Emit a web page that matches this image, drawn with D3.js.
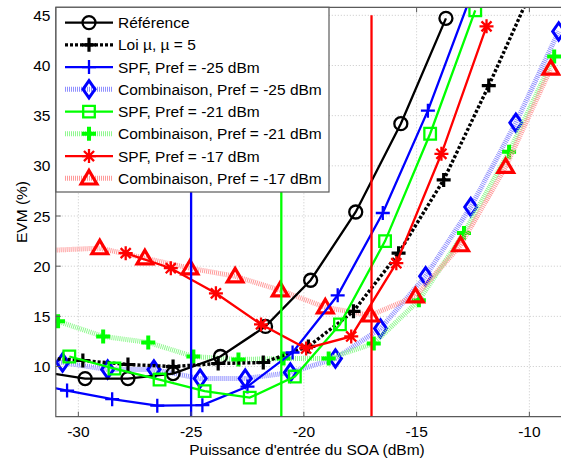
<!DOCTYPE html>
<html>
<head>
<meta charset="utf-8">
<script src="https://cdn.jsdelivr.net/npm/d3@7"></script>
<style>
  body { margin: 0; background: #fff; }
  text { font-family: "Liberation Sans", Arial, sans-serif; font-size: 15.5px; fill: #000; }
</style>
</head>
<body>
<div id="chart"></div>
<script>
// data (x = input power dBm, y = EVM %)
const refX = [-31.7, -29.7, -27.8, -25.8, -23.7, -21.7, -19.7, -17.7, -15.7, -13.7]
const refY = [9.5, 8.8, 8.8, 9.3, 11.0, 14.0, 18.6, 25.4, 34.2, 44.7]

const loiX = [-31.8, -29.8, -27.8, -25.8, -23.8, -21.8, -19.8, -17.8, -15.8, -13.8, -11.8, -9.8]
const loiY = [10.9, 10.6, 10.2, 10.0, 10.3, 10.4, 12.0, 15.5, 21.3, 28.6, 38.0, 48.0]

const spf25X = [-32.5, -30.5, -28.5, -26.5, -24.5, -22.5, -20.5, -18.5, -16.5, -14.5, -12.5]
const spf25Y = [8.5, 7.6, 6.75, 6.1, 6.15, 8.0, 11.4, 17.1, 25.3, 35.5, 47.5]

const comb25X = [-32.7, -30.7, -28.7, -26.65, -24.6, -22.6, -20.6, -18.6, -16.6, -14.6, -12.6, -10.6, -8.7]
const comb25Y = [11.0, 10.4, 9.7, 9.7, 8.8, 8.8, 9.4, 10.8, 13.8, 19.0, 25.9, 34.3, 43.4]

const spf21X = [-30.4, -28.4, -26.4, -24.4, -22.4, -20.4, -18.4, -16.4, -14.4, -12.4]
const spf21Y = [11.0, 9.8, 8.7, 7.55, 6.9, 9.0, 14.2, 22.5, 33.2, 45.5]

const comb21X = [-30.9, -28.9, -26.9, -24.9, -22.9, -20.9, -18.9, -16.9, -14.9, -12.9, -10.9, -8.9]
const comb21Y = [14.5, 13.0, 12.4, 11.0, 10.7, 10.8, 10.8, 12.3, 16.6, 23.3, 31.4, 40.9]

const spf17X = [-27.9, -25.9, -23.9, -21.9, -19.9, -17.9, -15.9, -13.9, -11.9]
const spf17Y = [21.3, 19.8, 17.3, 14.2, 11.8, 13.0, 20.3, 31.2, 43.9]

const comb17X = [-31.05, -29.05, -27.05, -25.05, -23.05, -21.05, -19.05, -17.05, -15.05, -13.05, -11.05, -9.05]
const comb17Y = [21.6, 21.8, 20.8, 19.8, 19.0, 17.6, 15.9, 15.1, 17.0, 22.1, 29.9, 39.7]

const prefValues = [-25, -21, -17]
const xTicks = [-30, -25, -20, -15, -10]
const yTicks = [10, 15, 20, 25, 30, 35, 40, 45]

const seriesNames = ['Référence', 'Loi µ, µ = 5', 'SPF, Pref = -25 dBm', 'Combinaison, Pref = -25 dBm',
  'SPF, Pref = -21 dBm', 'Combinaison, Pref = -21 dBm', 'SPF, Pref = -17 dBm', 'Combinaison, Pref = -17 dBm']

// styles, one per series (same order as seriesNames)
const styles = [
  {x: refX, y: refY, color: '#000', width: 2.3, dash: null, marker: 'circle', mw: 2.3},
  {x: loiX, y: loiY, color: '#000', width: 3.4, dash: '3,2', marker: 'plus', mw: 3.2},
  {x: spf25X, y: spf25Y, color: '#0000ff', width: 2.3, dash: null, marker: 'plus', mw: 2.3},
  {x: comb25X, y: comb25Y, color: '#9090ff', width: 5, dash: '1,1', marker: 'diamond', mc: '#0000ff', mw: 3},
  {x: spf21X, y: spf21Y, color: '#00ff00', width: 2.3, dash: null, marker: 'square', mw: 2.3},
  {x: comb21X, y: comb21Y, color: '#90f890', width: 5, dash: '1,1', marker: 'plus', mc: '#00ff00', mw: 4},
  {x: spf17X, y: spf17Y, color: '#ff0000', width: 2.3, dash: null, marker: 'star', mw: 2.3},
  {x: comb17X, y: comb17Y, color: '#ff9a9a', width: 5, dash: '1,1', marker: 'triangle', mc: '#ff0000', mw: 3.2}
]
const prefColors = ['#0000ff', '#00ff00', '#ff0000']

const width = 561, height = 459
const margin = {left: 55.8, top: 7.3, right: 563.2, bottom: 416.7}

const svg = d3.select('#chart').append('svg')
  .attr('width', width).attr('height', height)

const xScale = d3.scaleLinear().domain([-31, -8.5]).range([margin.left, margin.right])
const yScale = d3.scaleLinear().domain([5, 45.8]).range([margin.bottom, margin.top])

svg.append('defs').append('clipPath').attr('id', 'plotclip')
  .append('rect')
  .attr('x', margin.left).attr('y', margin.top)
  .attr('width', margin.right - margin.left).attr('height', margin.bottom - margin.top)

// grid
let grid = svg.append('g').attr('id', 'grid')
grid.selectAll('.vgrid').data(xTicks).enter().append('line')
  .attr('x1', d => xScale(d)).attr('x2', d => xScale(d))
  .attr('y1', margin.top).attr('y2', margin.bottom)
  .attr('stroke', '#c8c8c8').attr('stroke-width', 1).style('stroke-dasharray', '1,2')
grid.selectAll('.hgrid').data(yTicks).enter().append('line')
  .attr('x1', margin.left).attr('x2', margin.right)
  .attr('y1', d => yScale(d)).attr('y2', d => yScale(d))
  .attr('stroke', '#c8c8c8').attr('stroke-width', 1).style('stroke-dasharray', '1,2')

// marker drawing
function markerPath(type, s) {
  switch (type) {
    case 'circle': return d3.symbol(d3.symbolCircle, Math.PI * s * s)()
    case 'plus': return `M${-s},0H${s}M0,${-s}V${s}`
    case 'diamond': return `M0,${-s * 1.15}L${s * 0.8},0L0,${s * 1.15}L${-s * 0.8},0Z`
    case 'square': return `M${-s},${-s}H${s}V${s}H${-s}Z`
    case 'triangle': return `M0,${-s * 1.05}L${s * 1.05},${s * 0.75}L${-s * 1.05},${s * 0.75}Z`
    case 'star': {
      let a = s * 0.72
      return `M${-s},0H${s}M0,${-s}V${s}M${-a},${-a}L${a},${a}M${-a},${a}L${a},${-a}`
    }
  }
}
const markerSize = {circle: 6.5, plus: 7, diamond: 7.5, square: 5.8, triangle: 7.5, star: 7}

let plot = svg.append('g').attr('clip-path', 'url(#plotclip)')
let line = d3.line().x(d => xScale(d[0])).y(d => yScale(d[1]))

// light combination curves first, solid ones on top
let drawOrder = [3, 5, 7, 0, 1, 2, 4, 6]
drawOrder.forEach(i => {
  let st = styles[i]
  let pts = st.x.map((x, k) => [x, st.y[k]])
  let g = plot.append('g').attr('class', 'series s' + i)
  g.append('path').datum(pts)
    .attr('d', line)
    .attr('fill', 'none')
    .attr('stroke', st.color)
    .attr('stroke-width', st.width)
    .style('stroke-dasharray', st.dash)
  g.selectAll('path.mk').data(pts.filter(p => p[0] >= -31 && p[1] <= 45.8)).enter()
    .append('path').attr('class', 'mk')
    .attr('transform', d => 'translate(' + xScale(d[0]) + ',' + yScale(d[1]) + ')')
    .attr('d', markerPath(st.marker, markerSize[st.marker]))
    .attr('fill', 'none')
    .attr('stroke', st.mc || st.color)
    .attr('stroke-width', st.mw)
})

// vertical Pref lines
plot.selectAll('.pref').data(prefValues).enter().append('line')
  .attr('x1', d => xScale(d)).attr('x2', d => xScale(d))
  .attr('y1', yScale(45)).attr('y2', margin.bottom)
  .attr('stroke', (d, i) => prefColors[i]).attr('stroke-width', 2.3)

// axes box + inside ticks
let ax = svg.append('g').attr('id', 'axes')
ax.append('path')
  .attr('d', `M${margin.right},${margin.top}H${margin.left}V${margin.bottom}H${margin.right}`)
  .attr('fill', 'none').attr('stroke', '#5a5a5a').attr('stroke-width', 1.2)
ax.selectAll('.xt').data(xTicks).enter().append('path')
  .attr('d', d => `M${xScale(d)},${margin.bottom}v-5M${xScale(d)},${margin.top}v5`)
  .attr('stroke', '#5a5a5a')
ax.selectAll('.yt').data(yTicks).enter().append('path')
  .attr('d', d => `M${margin.left},${yScale(d)}h5`)
  .attr('stroke', '#5a5a5a')
ax.selectAll('.xl').data(xTicks).enter().append('text')
  .attr('x', d => xScale(d)).attr('y', 437)
  .attr('text-anchor', 'middle').text(d => d)
ax.selectAll('.yl').data(yTicks).enter().append('text')
  .attr('x', 50.5).attr('y', d => yScale(d)).attr('dy', '0.36em')
  .attr('text-anchor', 'end').text(d => d)

ax.append('text').attr('x', 307).attr('y', 455).attr('text-anchor', 'middle')
  .text("Puissance d'entrée du SOA (dBm)")
ax.append('text').attr('transform', 'translate(26.5,212) rotate(-90)')
  .attr('text-anchor', 'middle').text('EVM (%)')

// legend
let leg = svg.append('g').attr('id', 'legend')
leg.append('rect').attr('x', 56).attr('y', 7.3).attr('width', 273).attr('height', 184.7)
  .attr('fill', '#fff').attr('stroke', '#5a5a5a').attr('stroke-width', 1.2)
seriesNames.forEach((name, i) => {
  let st = styles[i]
  let y = 22.6 + i * 22.25
  let row = leg.append('g')
  row.append('line').attr('x1', 65).attr('x2', 113).attr('y1', y).attr('y2', y)
    .attr('stroke', st.color).attr('stroke-width', st.width)
    .style('stroke-dasharray', st.dash)
  row.append('path').attr('transform', 'translate(89,' + y + ')')
    .attr('d', markerPath(st.marker, markerSize[st.marker]))
    .attr('fill', 'none').attr('stroke', st.mc || st.color).attr('stroke-width', st.mw)
  row.append('text').attr('x', 118).attr('y', y).attr('dy', '0.36em').text(name)
})
</script>
</body>
</html>
